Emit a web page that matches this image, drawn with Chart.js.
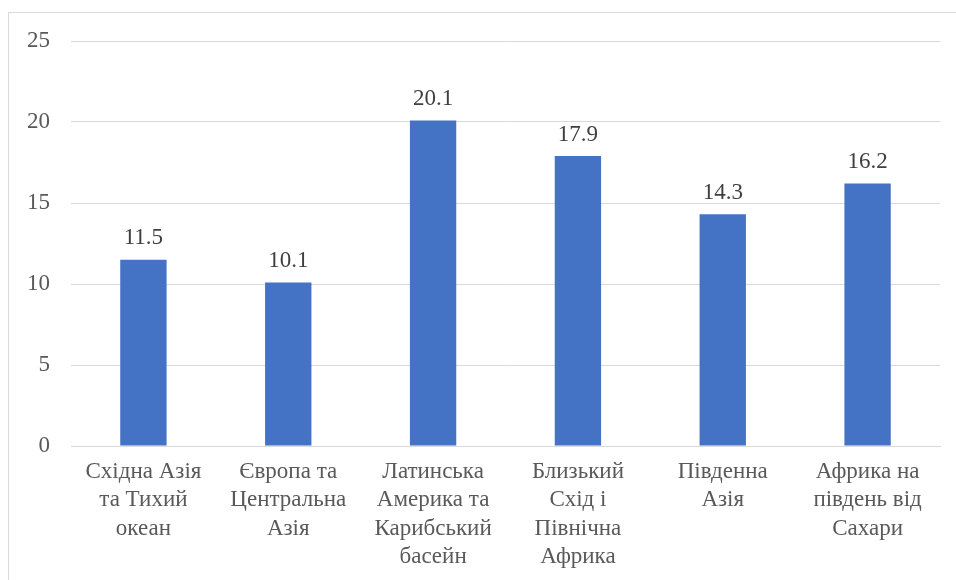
<!DOCTYPE html>
<html>
<head>
<meta charset="utf-8">
<script src="https://cdn.jsdelivr.net/npm/chart.js@4/dist/chart.umd.min.js"></script>
<style>
  html, body { margin: 0; padding: 0; background: #fff; overflow: hidden; }
  #frame { position: absolute; left: 8px; top: 12px; width: 1000px; height: 640px; border: 1px solid #d9d9d9; }
  #wrap { position: absolute; left: 0; top: 0; width: 956px; height: 580px; }
</style>
</head>
<body>
<div id="frame"></div>
<div id="wrap"><canvas id="chart"></canvas></div>
<script>
const regions = [
    ['Східна Азія', 'та Тихий', 'океан'],
    ['Європа та', 'Центральна', 'Азія'],
    ['Латинська', 'Америка та', 'Карибський', 'басейн'],
    ['Близький', 'Схід і', 'Північна', 'Африка'],
    ['Південна', 'Азія'],
    ['Африка на', 'південь від', 'Сахари']
];
const values = [11.5, 10.1, 20.1, 17.9, 14.3, 16.2];
const yTicks = [0, 5, 10, 15, 20, 25];

const fontFamily = '"Liberation Serif", "Times New Roman", serif';

// labels above each bar
const valueLabels = {
    id: 'valueLabels',
    afterDatasetsDraw(chart) {
        const ctx = chart.ctx;
        const meta = chart.getDatasetMeta(0);
        ctx.save();
        ctx.font = '23px ' + fontFamily;
        ctx.fillStyle = '#404040';
        ctx.textAlign = 'center';
        ctx.textBaseline = 'bottom';
        meta.data.forEach((bar, i) => {
            ctx.fillText(values[i].toFixed(1), bar.x, bar.y - 10);
        });
        ctx.restore();
    }
};

const ctx = document.getElementById('chart').getContext('2d');
new Chart(ctx, {
    type: 'bar',
    data: {
        labels: regions,
        datasets: [{
            data: values,
            backgroundColor: '#4472C4',
            borderWidth: 0,
            barPercentage: 0.64,
            categoryPercentage: 0.5
        }]
    },
    options: {
        responsive: true,
        maintainAspectRatio: false,
        animation: false,
        layout: { padding: { left: 6, right: 16, top: 41, bottom: 0 } },
        plugins: {
            legend: { display: false },
            tooltip: { enabled: false }
        },
        scales: {
            x: {
                grid: { display: false, drawTicks: false },
                border: { color: '#d9d9d9', width: 1 },
                ticks: {
                    autoSkip: false,
                    maxRotation: 0,
                    padding: 12,
                    color: '#595959',
                    font: { family: fontFamily, size: 23, lineHeight: 1.23 }
                },
                afterFit: axis => { axis.height = 134; }
            },
            y: {
                min: 0,
                max: 25,
                afterBuildTicks: axis => { axis.ticks = yTicks.map(v => ({ value: v })); },
                grid: { color: '#d9d9d9', lineWidth: 1, drawTicks: false },
                border: { display: false },
                ticks: {
                    padding: 21,
                    color: '#595959',
                    font: { family: fontFamily, size: 23 }
                }
            }
        }
    },
    plugins: [valueLabels]
});
</script>
</body>
</html>
